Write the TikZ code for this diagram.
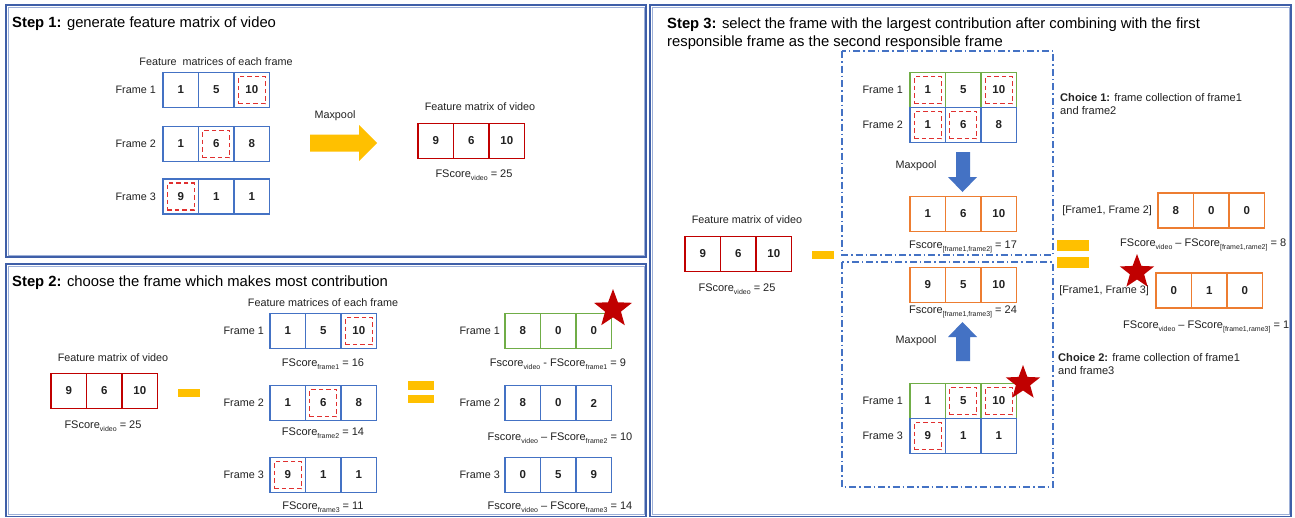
\documentclass[tikz,border=0pt]{standalone}
\usepackage{fontspec}
\setmainfont{Liberation Sans}
\usetikzlibrary{shapes.geometric}

\definecolor{cblue}{HTML}{4472C4}
\definecolor{cred}{HTML}{C00000}
\definecolor{hlred}{HTML}{E03030}
\definecolor{cgreen}{HTML}{70AD47}
\definecolor{corange}{HTML}{ED7D31}
\definecolor{cyellow}{HTML}{FFC000}
\definecolor{panelblue}{HTML}{3F5FA8}
\definecolor{panellight}{HTML}{9DB0D8}
\definecolor{txt}{HTML}{222222}

\tikzset{
  cell/.style={draw, line width=1.4pt, minimum width=35.5pt, minimum height=35pt,
    inner sep=0pt, outer sep=0pt, anchor=west, text=txt,
    font=\fontsize{11.5}{13}\selectfont\bfseries},
  hl/.style={draw=hlred, line width=1.3pt, dash pattern=on 4.5pt off 3pt,
    minimum size=27pt, inner sep=0pt},
  lbl/.style={font=\fontsize{10.8}{13}\selectfont, inner sep=0pt, text=txt},
  score/.style={font=\fontsize{11}{13}\selectfont, inner sep=0pt, text=txt},
  title/.style={font=\fontsize{14.8}{18}\selectfont, inner sep=0pt, anchor=west, align=left},
  choice/.style={font=\fontsize{11.1}{13.5}\selectfont, inner sep=0pt, anchor=north west, align=left, text=txt},
  panel/.style={draw=panelblue, line width=1.1pt},
  panelin/.style={draw=panellight, line width=0.6pt},
  choicebox/.style={draw=cblue, line width=1.3pt, dash pattern=on 7pt off 3pt on 1.5pt off 3pt},
  bar/.style={fill=cyellow, draw=none},
  prize/.style={star, star points=5, star point ratio=2.4, fill=cred, draw=none, inner sep=0pt}
}

% a row of three feature cells: name, left-centre point, colour, values
\newcommand{\matrow}[6]{%
  \node[cell,draw=#3] (#1-1) at (#2) {#4};
  \node[cell,draw=#3] (#1-2) at (#1-1.east) {#5};
  \node[cell,draw=#3] (#1-3) at (#1-2.east) {#6};}
\newcommand{\subs}[1]{\raisebox{-0.45ex}{\fontsize{7}{7}\selectfont #1}}

\begin{document}
\begin{tikzpicture}[x=1pt,y=-1pt]
\useasboundingbox (0,0) rectangle (1295,517);
\fill[white] (0,0) rectangle (1295,517);

% panels
\draw[panel] (6,5) rectangle (646,257);
\draw[panelin] (8,7) rectangle (644,255);
\draw[panel] (6,264) rectangle (646,516.5);
\draw[panelin] (8,266) rectangle (644,514.5);
\draw[panel] (650,5) rectangle (1291,516.5);
\draw[panelin] (652,7) rectangle (1289,514.5);

% ---------------- Step 1 ----------------
\node[title] (t1) at (12,24) {\textbf{Step 1:} generate feature matrix of video};
\node[lbl] (a-cap) at (216,62) {Feature\ \ matrices of each frame};
\matrow{a1}{163,90}{cblue}{1}{5}{10}
\matrow{a2}{163,144}{cblue}{1}{6}{8}
\matrow{a3}{163,196.5}{cblue}{9}{1}{1}
\node[hl] (a1h) at (a1-3) {};
\node[hl] (a2h) at (a2-2) {};
\node[hl] (a3h) at (a3-1) {};
\node[lbl,anchor=east] (a1l) at ([xshift=-7pt]a1-1.west) {Frame 1};
\node[lbl,anchor=east] (a2l) at ([xshift=-7pt]a2-1.west) {Frame 2};
\node[lbl,anchor=east] (a3l) at ([xshift=-7pt]a3-1.west) {Frame 3};
\node[lbl] (mp1) at (335,116) {Maxpool};
\fill[cyellow] (310,134.5) -- (359,134.5) -- (359,125) -- (377,143) -- (359,161)
  -- (359,151.5) -- (310,151.5) -- cycle;
\node[lbl] (v1cap) at (480,107) {Feature matrix of video};
\matrow{v1}{418,141}{cred}{9}{6}{10}
\node[score] (v1s) at (474,175) {FScore\subs{video} = 25};

% ---------------- Step 2 ----------------
\node[title] (t2) at (12,283) {\textbf{Step 2:} choose the frame which makes most contribution};
\node[lbl] (v2cap) at (113,358) {Feature matrix of video};
\matrow{v2}{51,391}{cred}{9}{6}{10}
\node[score] (v2s) at (103,426) {FScore\subs{video} = 25};
\fill[bar] (178,389) rectangle (200,397);

\node[lbl] (b-cap) at (323,303) {Feature matrices of each frame};
\matrow{b1}{270,331}{cblue}{1}{5}{10}
\matrow{b2}{270,403}{cblue}{1}{6}{8}
\matrow{b3}{270,475}{cblue}{9}{1}{1}
\node[hl] (b1h) at (b1-3) {};
\node[hl] (b2h) at (b2-2) {};
\node[hl] (b3h) at (b3-1) {};
\node[lbl,anchor=east] (b1l) at ([xshift=-6pt]b1-1.west) {Frame 1};
\node[lbl,anchor=east] (b2l) at ([xshift=-6pt]b2-1.west) {Frame 2};
\node[lbl,anchor=east] (b3l) at ([xshift=-6pt]b3-1.west) {Frame 3};
\node[score] (b1s) at (323,364) {FScore\subs{frame1} = 16};
\node[score] (b2s) at (323,433) {FScore\subs{frame2} = 14};
\node[score] (b3s) at (323,507) {FScore\subs{frame3} = 11};

\fill[bar] (408,381) rectangle (434,390);
\fill[bar] (408,395) rectangle (434,403);

\matrow{c1}{505,331}{cgreen}{8}{0}{0}
\matrow{c2}{505,403}{cblue}{8}{0}{2}
\matrow{c3}{505,475}{cblue}{0}{5}{9}
\node[lbl,anchor=east] (c1l) at ([xshift=-5pt]c1-1.west) {Frame 1};
\node[lbl,anchor=east] (c2l) at ([xshift=-5pt]c2-1.west) {Frame 2};
\node[lbl,anchor=east] (c3l) at ([xshift=-5pt]c3-1.west) {Frame 3};
\node[score] (c1s) at (558,364) {Fscore\subs{video} - FScore\subs{frame1} = 9};
\node[score] (c2s) at (560,438) {Fscore\subs{video} -- FScore\subs{frame2} = 10};
\node[score] (c3s) at (560,507) {Fscore\subs{video} -- FScore\subs{frame3} = 14};
\node[prize, minimum size=40pt] (s2star) at (613,309) {};

% ---------------- Step 3 ----------------
\node[title] (t3) at (667,34) {\textbf{Step 3:} select the frame with the largest contribution after combining with the first\\responsible frame as the second responsible frame};

\draw[choicebox] (842,51) rectangle (1053,255);
\draw[choicebox] (842,262) rectangle (1053,487);

\node[lbl] (v3cap) at (747,220) {Feature matrix of video};
\matrow{v3}{685,254}{cred}{9}{6}{10}
\node[score] (v3s) at (737,289) {FScore\subs{video} = 25};
\fill[bar] (812,251) rectangle (834,259);

% choice 1
\matrow{d1}{910,90}{cgreen}{1}{5}{10}
\matrow{d2}{910,125}{cblue}{1}{6}{8}
\node[hl] (d1h1) at (d1-1) {};
\node[hl] (d1h3) at (d1-3) {};
\node[hl] (d2h1) at (d2-1) {};
\node[hl] (d2h2) at (d2-2) {};
\node[lbl,anchor=east] (d1l) at ([xshift=-7pt]d1-1.west) {Frame 1};
\node[lbl,anchor=east] (d2l) at ([xshift=-7pt]d2-1.west) {Frame 2};
\node[lbl] (mp2) at (916,166) {Maxpool};
\fill[cblue] (956,152) -- (970,152) -- (970,177) -- (977,177) -- (962.5,192)
  -- (948,177) -- (956,177) -- cycle;
\matrow{e1}{910,214}{corange}{1}{6}{10}
\node[score] (e1s) at (963,247) {Fscore\subs{[frame1,frame2]} = 17};
\node[choice] (ch1) at (1060,93) {\textbf{Choice 1:} frame collection of frame1\\and frame2};

% choice 2
\matrow{e2}{910,285}{corange}{9}{5}{10}
\node[score] (e2s) at (963,312) {Fscore\subs{[frame1,frame3]} = 24};
\fill[cblue] (962.5,322) -- (977,337) -- (970,337) -- (970,361) -- (956,361)
  -- (956,337) -- (948,337) -- cycle;
\node[lbl] (mp3) at (916,341) {Maxpool};
\matrow{g1}{910,401}{cgreen}{1}{5}{10}
\matrow{g3}{910,436}{cblue}{9}{1}{1}
\node[hl] (g1h2) at (g1-2) {};
\node[hl] (g1h3) at (g1-3) {};
\node[hl] (g3h1) at (g3-1) {};
\node[lbl,anchor=east] (g1l) at ([xshift=-7pt]g1-1.west) {Frame 1};
\node[lbl,anchor=east] (g3l) at ([xshift=-7pt]g3-1.west) {Frame 3};
\node[prize, minimum size=36pt] (s3star) at (1023,383) {};
\node[choice] (ch2) at (1058,353) {\textbf{Choice 2:} frame collection of frame1\\and frame3};

% differences
\fill[bar] (1057,240) rectangle (1089,251);
\fill[bar] (1057,257) rectangle (1089,268);
\matrow{h1}{1158,210.5}{corange}{8}{0}{0}
\node[lbl,anchor=east] (h1l) at ([xshift=-6pt]h1-1.west) {[Frame1, Frame 2]};
\node[score,anchor=west] (h1s) at (1120,245) {FScore\subs{video} -- FScore\subs{[frame1,rame2]} = 8};
\matrow{h2}{1156,290.5}{corange}{0}{1}{0}
\node[lbl,anchor=east] (h2l) at ([xshift=-7pt]h2-1.west) {[Frame1, Frame 3]};
\node[score,anchor=west] (h2s) at (1123,327) {FScore\subs{video} -- FScore\subs{[frame1,rame3]} = 1};
\node[prize, minimum size=36pt] (s4star) at (1137,272) {};
\end{tikzpicture}
\end{document}
